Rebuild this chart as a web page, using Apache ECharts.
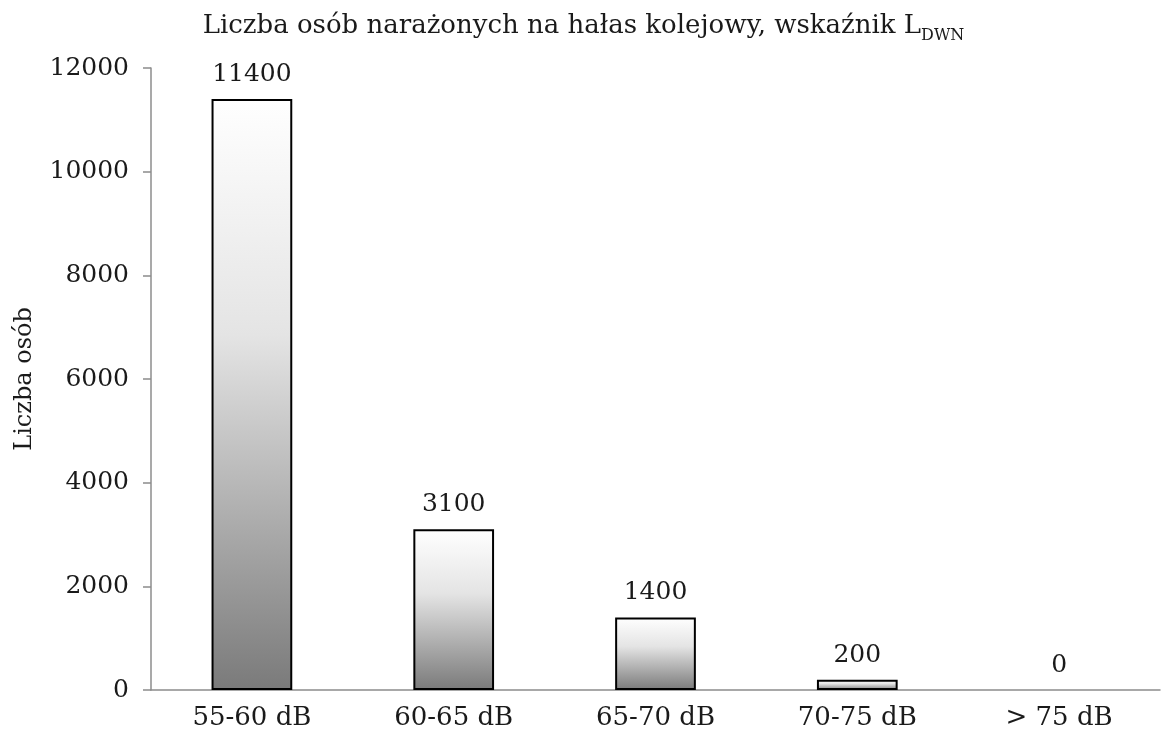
<!DOCTYPE html>
<html>
<head>
<meta charset="utf-8">
<script src="https://cdn.jsdelivr.net/npm/echarts@6/dist/echarts.min.js"></script>
<style>
html,body{margin:0;padding:0;background:#fff;}
#chart{width:1167px;height:735px;}
</style>
</head>
<body>
<div id="chart"></div>
<script>
const categories = ['55-60 dB', '60-65 dB', '65-70 dB', '70-75 dB', '> 75 dB'];
const values = [11400, 3100, 1400, 200, 0];
const yMin = 0, yMax = 12000, yInterval = 2000;
const titleMain = 'Liczba osób narażonych na hałas kolejowy, wskaźnik L';
const titleSub = 'DWN';
const yAxisName = 'Liczba osób';

const FONT = 'DejaVu Serif';
const chart = echarts.init(document.getElementById('chart'), null, {renderer: 'canvas'});
chart.setOption({
  backgroundColor: '#ffffff',
  animation: false,
  title: {
    text: '{a|' + titleMain + '}{s|' + titleSub + '}',
    left: 'center',
    top: 2,
    textStyle: {
      fontWeight: 'normal',
      rich: {
        a: {fontFamily: FONT, fontSize: 26, fontWeight: 'normal', color: '#1a1a1a', lineHeight: 32, verticalAlign: 'bottom'},
        s: {fontFamily: FONT, fontSize: 16, fontWeight: 'normal', color: '#1a1a1a', lineHeight: 32, verticalAlign: 'bottom', padding: [0, 0, -5, 0]}
      }
    }
  },
  grid: {left: 151, right: 7, top: 68, bottom: 45, containLabel: false, outerBoundsMode: 'none'},
  xAxis: {
    type: 'category',
    data: categories,
    axisLine: {show: true, lineStyle: {color: '#8c8c8c', width: 1.5}},
    axisTick: {show: false},
    axisLabel: {fontFamily: FONT, fontSize: 26, color: '#1a1a1a', margin: 15},
    splitLine: {show: false}
  },
  yAxis: {
    type: 'value',
    min: yMin, max: yMax, interval: yInterval,
    name: yAxisName,
    nameLocation: 'middle',
    nameGap: 114,
    nameRotate: 90,
    nameTextStyle: {fontFamily: FONT, fontSize: 24, color: '#1a1a1a'},
    axisLine: {show: true, lineStyle: {color: '#8c8c8c', width: 1.5}},
    axisTick: {show: true, inside: false, length: 8, lineStyle: {color: '#8c8c8c', width: 1.5}},
    axisLabel: {fontFamily: FONT, fontSize: 25, color: '#1a1a1a', margin: 22, formatter: v => String(v)},
    splitLine: {show: false}
  },
  series: [{
    type: 'bar',
    data: values.map(v => v === 0 ? {value: v, itemStyle: {borderWidth: 0}} : v),
    barWidth: '40%',
    itemStyle: {
      color: new echarts.graphic.LinearGradient(0, 0, 0, 1, [
        {offset: 0, color: '#ffffff'},
        {offset: 0.4, color: '#e4e4e4'},
        {offset: 1, color: '#7a7a7a'}
      ]),
      borderColor: '#000000',
      borderWidth: 2
    },
    label: {
      show: true,
      position: 'top',
      distance: 12,
      fontFamily: FONT,
      fontSize: 25,
      color: '#1a1a1a'
    }
  }]
});
</script>
</body>
</html>
